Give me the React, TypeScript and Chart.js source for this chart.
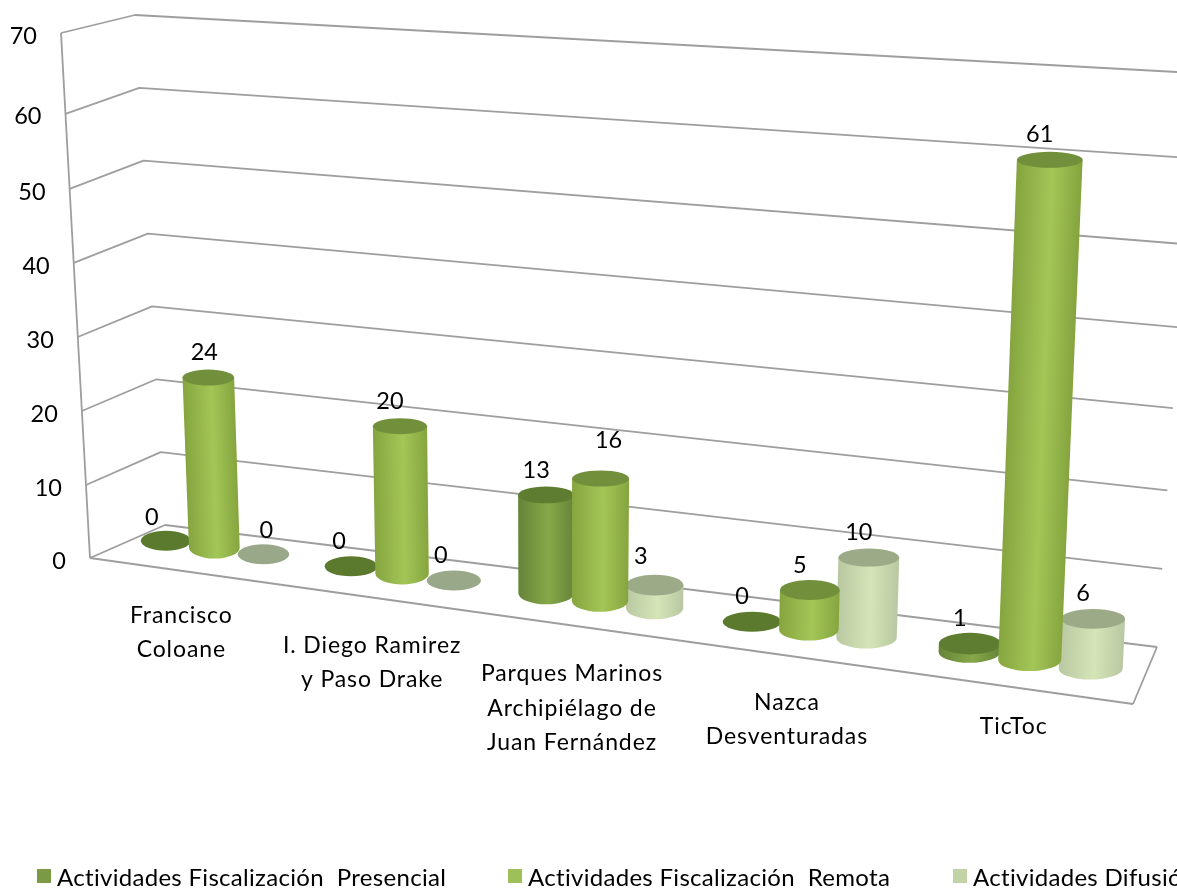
import React, { useEffect, useRef } from "react";
import { Chart, registerables } from "chart.js";

Chart.register(...registerables);

const W = 1177;
const H = 889;

const categories = [
  ["Francisco", "Coloane"],
  ["I. Diego Ramirez", "y Paso Drake"],
  ["Parques Marinos", "Archipiélago de", "Juan Fernández"],
  ["Nazca", "Desventuradas"],
  ["TicToc"],
];
const presencial = [0, 0, 13, 0, 1];
const remota = [24, 20, 16, 5, 61];
const difusion = [0, 0, 3, 10, 6];
const seriesNames = [
  "Actividades Fiscalización  Presencial",
  "Actividades Fiscalización  Remota",
  "Actividades Difusión",
];
const yMax = 70;
const yStep = 10;

// Layout of the projected scene (style only).
type P = [number, number];
const wallBL: P = [165, 525];
const wallBR: P = [1157, 647];
const wallTR: P = [1195, 73];
const wallTL: P = [135, 15];
const axisBottom: P = [90, 558];
const axisTop: P = [61, 33];
const axisRise = [0, 0.139, 0.28, 0.421, 0.562, 0.703, 0.846, 1];
const wallRightRise = [0, 0.136, 0.273, 0.416, 0.557, 0.702, 0.852, 1];
const floorFrontRight: P = [1133, 704];

const catLabelOffset: P[] = [[-33, 68], [-30, 72], [-28, 73], [-22, 73], [-16, 67]];
const valueLabelNudge: P[][] = [
  [[-4, 2], [-2, 0], [0, 0], [0, 0], [0, 0]],
  [[6, 0], [0, 0], [18, -13], [0, 0], [0, 0]],
  [[13, 1], [-3, 0], [-4, -4], [0, 0], [0, 0]],
];
const legendX = [37, 508, 953];
const drawOrder = [0, 2, 1];

const palette = [
  { top: "#5f7d30", edge: "#668439", mid: "#86a848", flat: "#5b7a2e" },
  { top: "#728f3c", edge: "#86a53f", mid: "#a3c657", flat: "#728f3c" },
  { top: "#9caa87", edge: "#b9c8a1", mid: "#d5e5b8", flat: "#98a888" },
];
const legendColors = ["#7c9a45", "#9fbf58", "#c3d3a8"];
const FONT = "Lato, sans-serif";

// Where a bar's foot lands on the floor, u being 0..1 across the chart area.
function floorPoint(u: number): P {
  const t = 1 - 0.1266 * u;
  return [(876 * u + 124) / t, (55.4 * u + 535) / t];
}

// Value axis of a bar standing at u: a little lean, and a scale growing towards the viewer.
function barPoint(u: number, value: number): P {
  const [bx, by] = floorPoint(u);
  return [bx + value * (-0.322 + 0.7225 * u), by - value * (6.94 + 1.4 * u)];
}

function lerp(a: P, b: P, f: number): P {
  return [a[0] + (b[0] - a[0]) * f, a[1] + (b[1] - a[1]) * f];
}

function axisPoint(value: number): P {
  return lerp(axisBottom, axisTop, axisRise[Math.round(value / yStep)]);
}

function wallLeft(value: number): P {
  return lerp(wallBL, wallTL, value / yMax);
}

function wallRight(value: number): P {
  return lerp(wallBR, wallTR, wallRightRise[Math.round(value / yStep)]);
}

function line(ctx: CanvasRenderingContext2D, a: P, b: P) {
  ctx.beginPath();
  ctx.moveTo(a[0], a[1]);
  ctx.lineTo(b[0], b[1]);
  ctx.stroke();
}

function drawCylinders(chart: any, index: number) {
  const { ctx, chartArea, scales } = chart;
  const y = scales.y;
  const pal = palette[index];
  const cw = chartArea.right - chartArea.left;
  chart.getDatasetMeta(index).data.forEach((bar: any) => {
    const uc = (bar.x - chartArea.left) / cw;
    const du = ((bar.width / 2) * 1.04) / cw;
    const value = y.getValueForPixel(bar.y) as number;
    const w = value / yMax;
    const baseC = barPoint(uc, 0);
    const topC = barPoint(uc, value);
    const rxB = (floorPoint(uc + du)[0] - floorPoint(uc - du)[0]) / 2;
    const rxT = rxB * (1 + 0.05 * w);
    const ryB = 11;
    const ryT = Math.max(8, 11 - value * 0.2);
    if (value > 0.01) {
      ctx.save();
      const k = (topC[0] - baseC[0]) / (topC[1] - baseC[1]);
      ctx.transform(1, 0, k, 1, -k * baseC[1], 0);
      const g = ctx.createLinearGradient(baseC[0] - rxB, 0, baseC[0] + rxB, 0);
      g.addColorStop(0, pal.edge);
      g.addColorStop(0.55, pal.mid);
      g.addColorStop(1, pal.edge);
      ctx.fillStyle = g;
      ctx.beginPath();
      ctx.moveTo(baseC[0] - rxT, topC[1]);
      ctx.lineTo(baseC[0] - rxB, baseC[1]);
      ctx.ellipse(baseC[0], baseC[1], rxB, ryB, 0, Math.PI, 0, true);
      ctx.lineTo(baseC[0] + rxT, topC[1]);
      ctx.closePath();
      ctx.fill();
      ctx.restore();
      ctx.fillStyle = pal.top;
      ctx.beginPath();
      ctx.ellipse(topC[0], topC[1], rxT, ryT, 0, 0, Math.PI * 2);
      ctx.fill();
    } else {
      ctx.fillStyle = pal.flat;
      ctx.beginPath();
      ctx.ellipse(topC[0], topC[1], rxB, 10, 0, 0, Math.PI * 2);
      ctx.fill();
    }
  });
}

const scene = {
  id: "scene",
  beforeDatasetsDraw(chart: any) {
    const { ctx, scales } = chart;
    const y = scales.y;
    ctx.save();
    ctx.strokeStyle = "#9e9e9e";
    ctx.lineWidth = 1.8;
    ctx.lineJoin = "round";
    for (const t of y.ticks) {
      const a = axisPoint(t.value);
      const b = wallLeft(t.value);
      const c = wallRight(t.value);
      ctx.beginPath();
      ctx.moveTo(a[0], a[1]);
      ctx.lineTo(b[0], b[1]);
      ctx.lineTo(c[0], c[1]);
      ctx.stroke();
    }
    line(ctx, axisBottom, axisTop);
    line(ctx, axisBottom, floorFrontRight);
    line(ctx, floorFrontRight, wallBR);

    ctx.fillStyle = "#000";
    ctx.font = `23.5px ${FONT}`;
    ctx.textAlign = "right";
    ctx.textBaseline = "middle";
    for (const t of y.ticks) {
      const a = axisPoint(t.value);
      ctx.fillText(String(t.value), a[0] - 24, a[1] + 3);
    }
    ctx.restore();
  },
  beforeDatasetDraw() {
    return false;
  },
  afterDatasetsDraw(chart: any) {
    const { ctx, chartArea, scales } = chart;
    const cw = chartArea.right - chartArea.left;
    ctx.save();
    drawOrder.forEach((i) => drawCylinders(chart, i));
    ctx.fillStyle = "#000";
    ctx.textBaseline = "middle";
    ctx.textAlign = "center";
    ctx.font = `23.5px ${FONT}`;
    chart.data.datasets.forEach((ds: any, i: number) => {
      chart.getDatasetMeta(i).data.forEach((bar: any, j: number) => {
        const p = barPoint((bar.x - chartArea.left) / cw, ds.data[j]);
        const n = valueLabelNudge[i][j];
        ctx.fillText(String(ds.data[j]), p[0] - 10 + n[0], p[1] - 25 + n[1]);
      });
    });
    // category labels, first line follows the floor line
    const xs = scales.x;
    ctx.font = `23px ${FONT}`;
    ctx.letterSpacing = "0.9px";
    categories.forEach((lines, j) => {
      const p = floorPoint((xs.getPixelForValue(j) - chartArea.left) / cw);
      const [dx, dy] = catLabelOffset[j];
      lines.forEach((t, k) => ctx.fillText(t, p[0] + dx, p[1] + dy + k * 34.5));
    });
    // legend
    ctx.textAlign = "left";
    ctx.font = `24px ${FONT}`;
    ctx.letterSpacing = "0.3px";
    chart.data.datasets.forEach((ds: any, i: number) => {
      ctx.fillStyle = legendColors[i];
      ctx.fillRect(legendX[i], 869, 14, 14);
      ctx.fillStyle = "#000";
      ctx.fillText(ds.label, legendX[i] + 20, 878);
    });
    ctx.letterSpacing = "0px";
    ctx.restore();
  },
};

export default function App() {
  const ref = useRef<HTMLCanvasElement>(null);
  useEffect(() => {
    document.body.style.margin = "0";
    const chart = new Chart(ref.current as HTMLCanvasElement, {
      type: "bar",
      data: {
        labels: categories.map((c) => c.join(" ")),
        datasets: [
          { label: seriesNames[0], data: presencial, backgroundColor: legendColors[0] },
          { label: seriesNames[1], data: remota, backgroundColor: legendColors[1] },
          { label: seriesNames[2], data: difusion, backgroundColor: legendColors[2] },
        ],
      },
      options: {
        responsive: false,
        animation: false,
        layout: { padding: 0 },
        datasets: { bar: { categoryPercentage: 0.8, barPercentage: 1 } },
        plugins: { legend: { display: false }, title: { display: false }, tooltip: { enabled: false } },
        scales: {
          x: { display: false, type: "category" },
          y: { display: false, min: 0, max: yMax, ticks: { stepSize: yStep } },
        },
      },
      plugins: [scene],
    } as any);
    return () => chart.destroy();
  }, []);
  return (
    <div style={{ position: "absolute", left: 0, top: 0, width: W, height: H, overflow: "hidden", background: "#fff" }}>
      <canvas ref={ref} width={W} height={H} style={{ display: "block" }} />
    </div>
  );
}
